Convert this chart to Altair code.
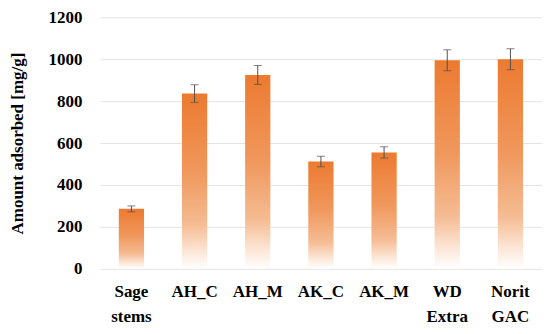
import altair as alt
import pandas as pd

categories = ["Sage stems", "AH_C", "AH_M", "AK_C", "AK_M", "WD Extra", "Norit GAC"]
values = [286, 836, 925, 512, 555, 995, 1000]
errors = [14, 42, 45, 25, 27, 50, 50]

df = pd.DataFrame({"cat": categories, "val": values, "err": errors})
df["lo"] = df["val"] - df["err"]
df["hi"] = df["val"] + df["err"]

FONT = "Liberation Serif"

x = alt.X("cat:N", sort=categories, title=None,
          scale=alt.Scale(paddingInner=0.6, paddingOuter=0.3),
          axis=alt.Axis(labelAngle=0, labelFont=FONT, labelFontSize=17,
                        labelFontWeight="bold", labelColor="#000000",
                        labelExpr="split(datum.label, ' ')", labelLineHeight=25,
                        labelPadding=15, ticks=False, domain=False,
                        labelBaseline="top"))
y = alt.Y("val:Q", title="Amount adsorbed [mg/g]",
          scale=alt.Scale(domain=[0, 1200], nice=False),
          axis=alt.Axis(values=[0, 200, 400, 600, 800, 1000, 1200], format="d",
                        labelFont=FONT, labelFontSize=17, labelFontWeight="bold",
                        labelColor="#000000", labelPadding=18, ticks=False,
                        domain=False, gridColor="#E4E4E4", gridWidth=1,
                        titleFont=FONT, titleFontSize=17, titleFontWeight="bold",
                        titleColor="#000000", titlePadding=21))

grad = {
    "gradient": "linear", "x1": 0, "y1": 0, "x2": 0, "y2": 1,
    "stops": [
        {"offset": 0, "color": "#EC7A30"},
        {"offset": 0.45, "color": "#F0985D"},
        {"offset": 0.75, "color": "#F5BC93"},
        {"offset": 0.9, "color": "#FCE6D6"},
        {"offset": 1, "color": "#FFFFFF"},
    ],
}

base = alt.Chart(df)
bars = base.mark_bar(color=grad).encode(x=x, y=y)
rule = base.mark_rule(color="#505050", strokeWidth=1).encode(
    x=alt.X("cat:N", sort=categories), y="lo:Q", y2="hi:Q")
cap_lo = base.mark_tick(color="#505050", size=8, thickness=1, orient="horizontal").encode(
    x=alt.X("cat:N", sort=categories), y="lo:Q")
cap_hi = base.mark_tick(color="#505050", size=8, thickness=1, orient="horizontal").encode(
    x=alt.X("cat:N", sort=categories), y="hi:Q")

chart = alt.layer(bars, rule, cap_lo, cap_hi).properties(
    width=443, height=252,
    autosize=alt.AutoSizeParams(type="none"),
    padding={"left": 92, "top": 9, "right": 0, "bottom": 57},
).configure_view(stroke=None)

chart.save("out.html", embed_options={"renderer": "svg", "actions": False})
